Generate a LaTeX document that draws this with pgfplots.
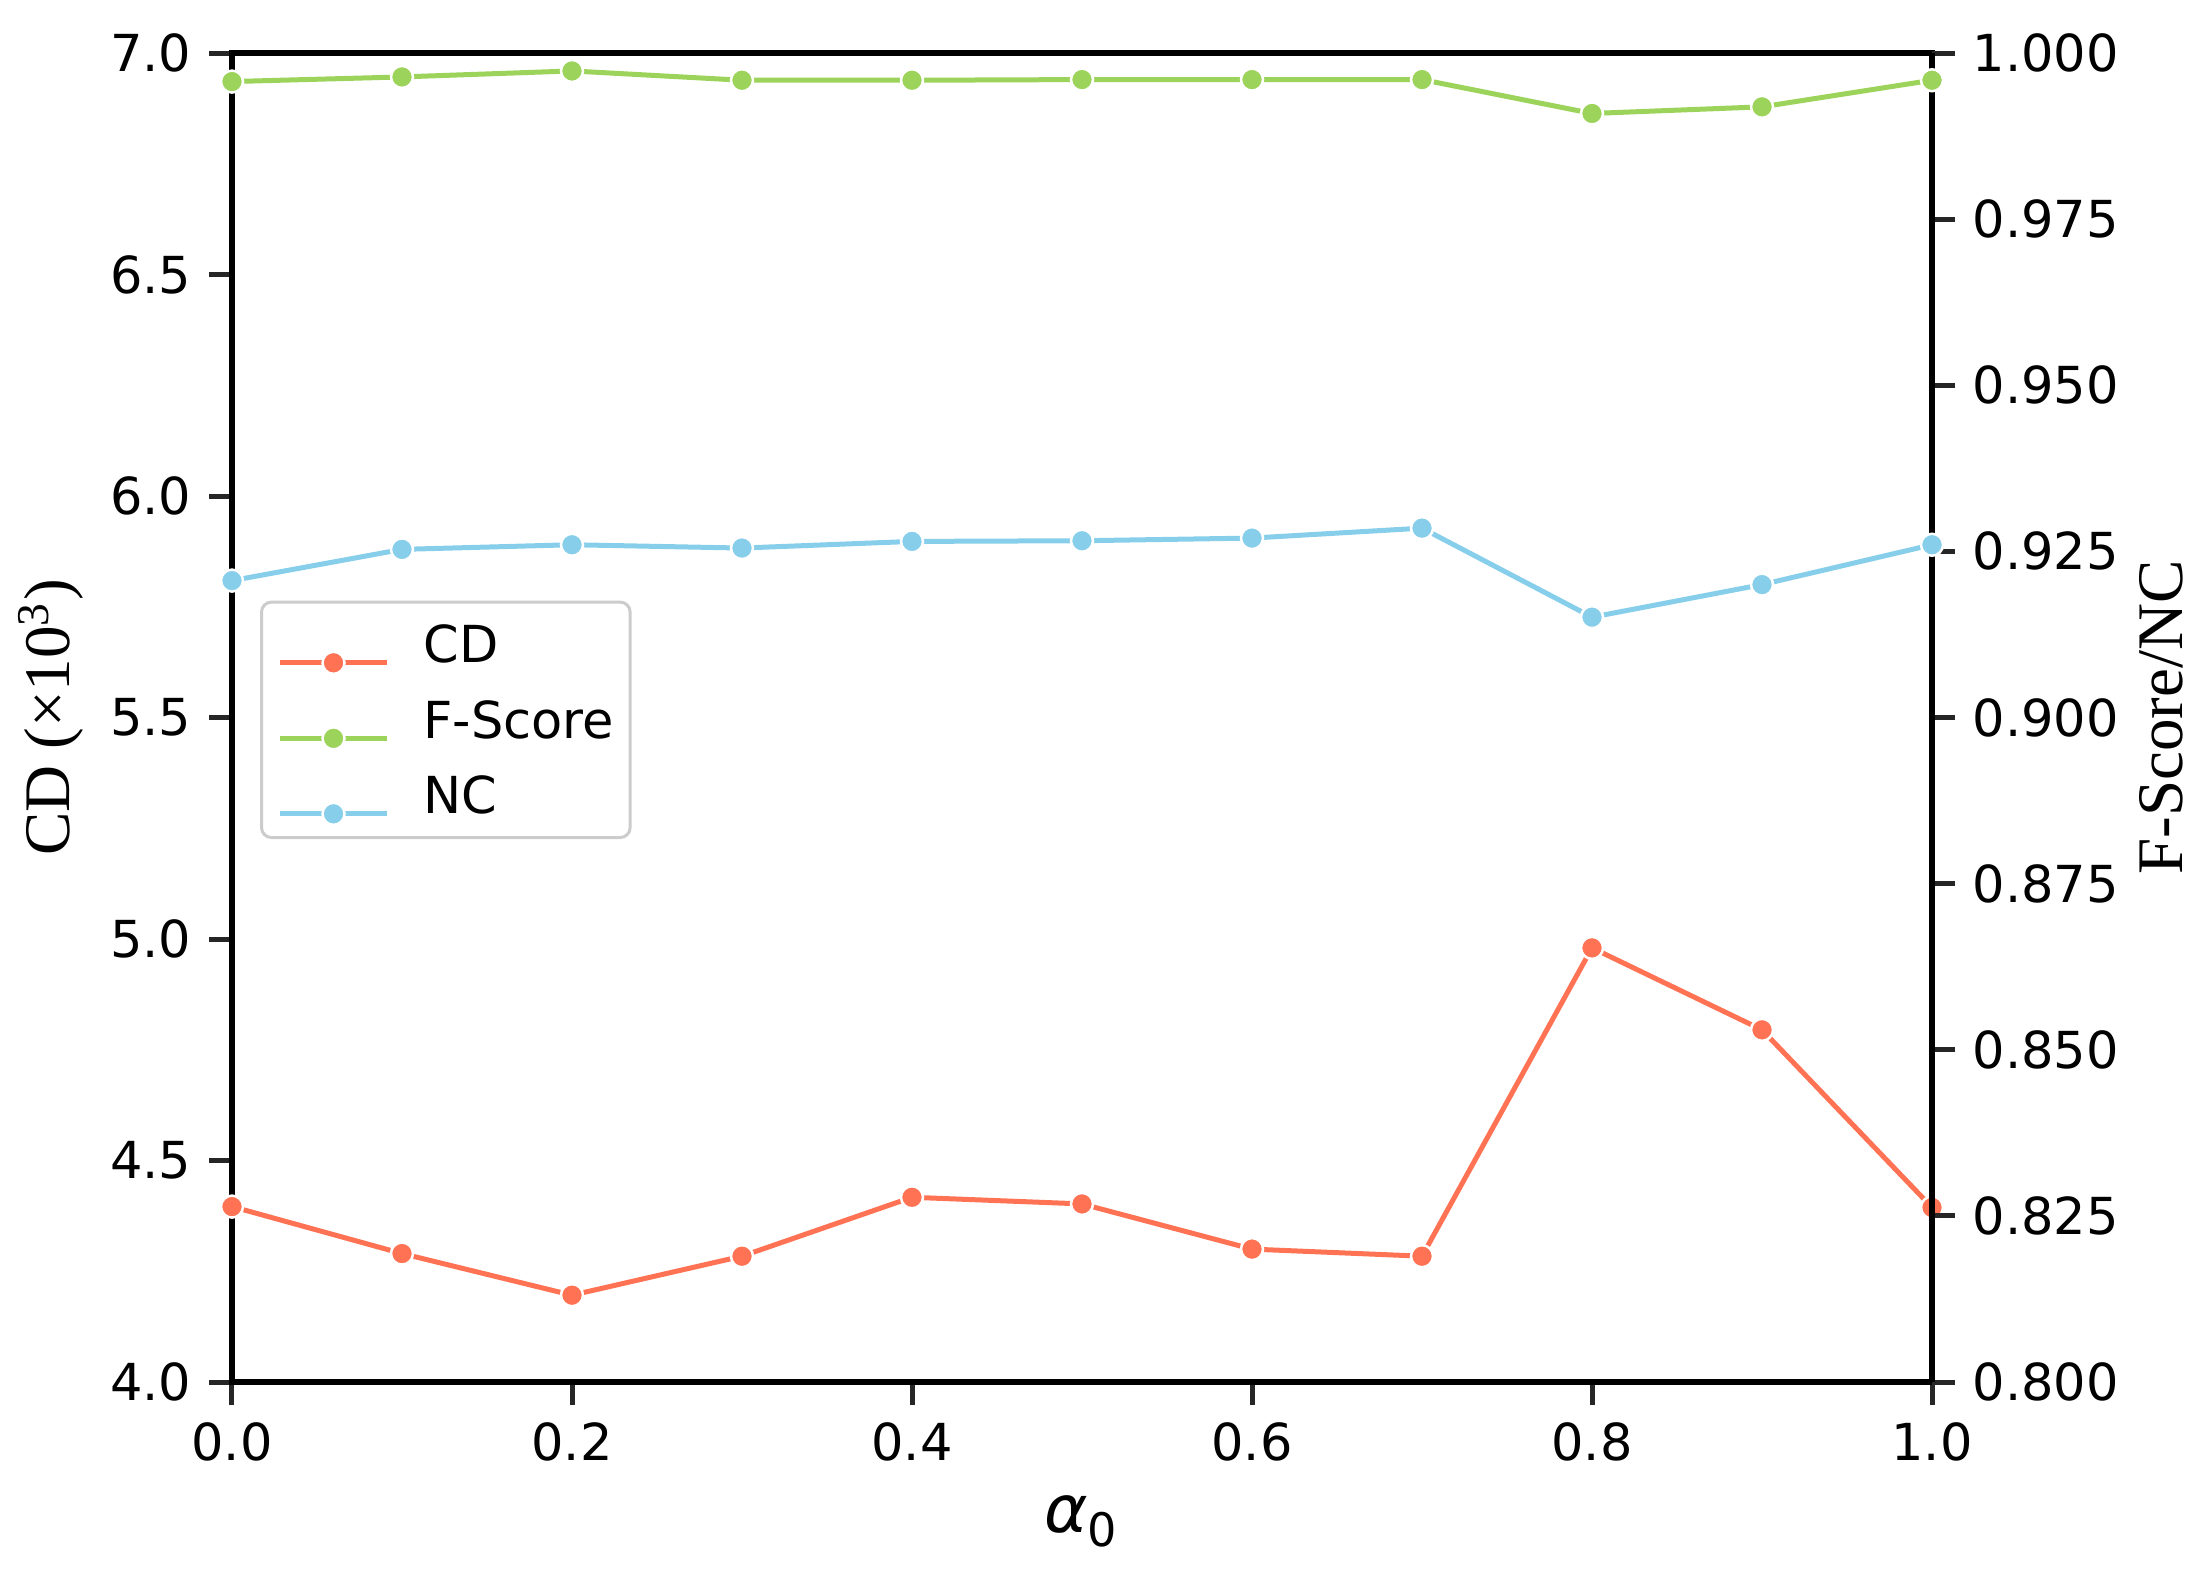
\documentclass[border=0pt]{standalone}
\usepackage{fontspec}
\setmainfont{DejaVu Sans}
\newfontfamily\seriffont{Liberation Serif}
\usepackage{pgfplots}
\pgfplotsset{compat=1.18}
\definecolor{cdc}{HTML}{FF7354}
\definecolor{fsc}{HTML}{9CD35A}
\definecolor{ncc}{HTML}{87CEEB}

\pgfplotstableread{
x cd
0.0 4.396
0.1 4.290
0.2 4.196
0.3 4.284
0.4 4.417
0.5 4.402
0.6 4.300
0.7 4.284
0.8 4.980
0.9 4.795
1.0 4.394
}\cdtable

\pgfplotstableread{
x fs nc
0.0 0.9957 0.9206
0.1 0.9964 0.9253
0.2 0.9973 0.9260
0.3 0.9959 0.9255
0.4 0.9959 0.9265
0.5 0.9960 0.9266
0.6 0.9960 0.9270
0.7 0.9960 0.9285
0.8 0.9909 0.9151
0.9 0.9919 0.9200
1.0 0.9959 0.9260
}\rtable

\pgfplotsset{
  common/.style={
    at={(0,0)}, anchor=south west, scale only axis,
    width=340pt, height=265.8pt,
    xmin=0, xmax=1,
    axis line style={line width=1.1pt},
    tick style={line width=1pt, color=black!85},
    tick align=outside, major tick length=4.6pt,
    ticklabel style={font=\fontsize{10.2}{12}\selectfont},
    /pgf/number format/assume math mode=true,
    clip=false,
  },
  ser/.style={color=#1, line width=1pt, mark=*, mark size=2.2pt,
    mark options={fill=#1, draw=white, line width=0.5pt}},
  legend image code/.code={
    \draw[#1] (0pt,0pt) -- (21.4pt,0pt);
    \draw[#1, only marks] plot coordinates {(10.7pt,0pt)};
  },
}

\begin{document}
\begin{tikzpicture}[x=1pt,y=1pt]
\useasboundingbox (-46.4,-37.2) rectangle (395,276.4);
\begin{axis}[common,
  ymin=4, ymax=7,
  ytick={4,4.5,5,5.5,6,6.5,7},
  xtick={0,0.2,0.4,0.6,0.8,1.0},
  xtick pos=left, ytick pos=left,
  xticklabel style={/pgf/number format/.cd, fixed, fixed zerofill, precision=1},
  yticklabel style={/pgf/number format/.cd, fixed, fixed zerofill, precision=1},
  xlabel={{\itshape α}\textsubscript{0}},
  xlabel style={at={(axis description cs:0.5,-0.1136)}, anchor=base, font=\fontsize{13.2}{15}\selectfont},
  ylabel={\seriffont CD (×10\textsuperscript{3})},
  ylabel style={at={(axis description cs:-0.1066,0.5)}, anchor=center, rotate=0, font=\fontsize{13}{15}\selectfont},
  legend style={at={(axis description cs:0.0165,0.588)}, anchor=north west,
    draw=black!20, rounded corners=2pt, fill=white, line width=0.6pt,
    font=\fontsize{10.2}{12}\selectfont,
    inner xsep=3.2pt, inner ysep=0.9pt, row sep=0pt,
    nodes={inner sep=0pt, text height=11.25pt, text depth=3.85pt, anchor=base west},
    /tikz/every odd column/.style={column sep=6.8pt}},
  legend cell align=left,
]
\addplot[ser=cdc] table[x=x, y=cd] {\cdtable};
\addlegendentry{CD\hspace{1pt}}
\addlegendimage{ser=fsc}
\addlegendentry{F-Score\hspace{1pt}}
\addlegendimage{ser=ncc}
\addlegendentry{NC\hspace{1pt}}
\end{axis}
\begin{axis}[common,
  ymin=0.8, ymax=1.0,
  ytick={0.8,0.825,0.85,0.875,0.9,0.925,0.95,0.975,1.0},
  axis x line=none, axis y line*=right,
  yticklabel style={/pgf/number format/.cd, fixed, fixed zerofill, precision=3},
  ylabel={\seriffont F-Score/NC},
  ylabel style={at={(axis description cs:1.135,0.5)}, anchor=center, rotate=0, font=\fontsize{13}{15}\selectfont},
]
\addplot[ser=fsc] table[x=x, y=fs] {\rtable};
\addplot[ser=ncc] table[x=x, y=nc] {\rtable};
\end{axis}
\end{tikzpicture}
\end{document}
